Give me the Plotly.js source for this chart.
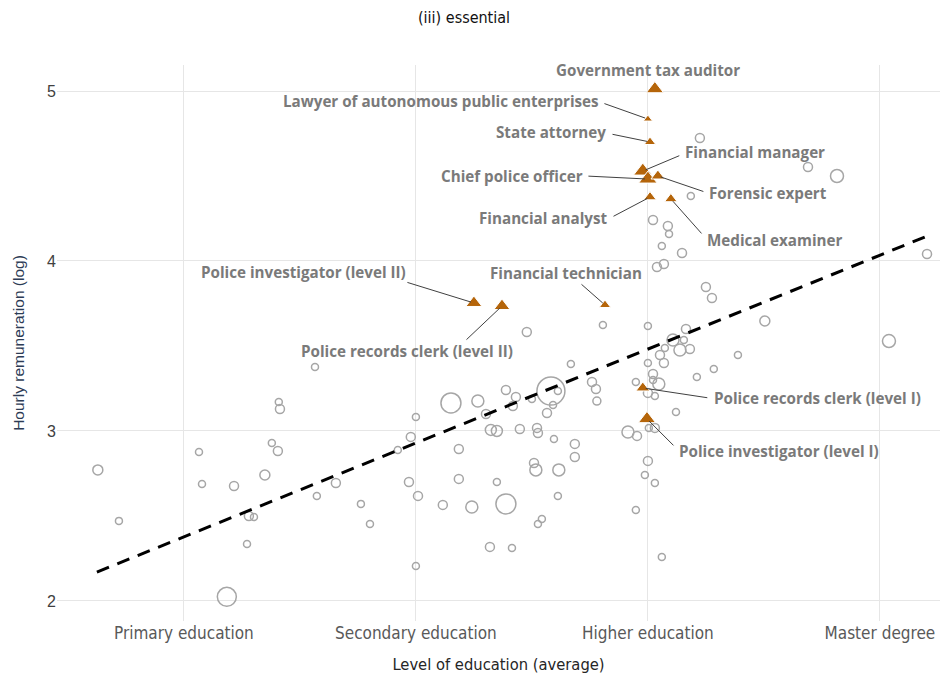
<!DOCTYPE html>
<html>
<head>
<meta charset="utf-8">
<script src="https://cdn.plot.ly/plotly-3.0.1.min.js"></script>
<style>html,body{margin:0;padding:0;background:#fff;}#chart{width:942px;height:682px;}</style>
</head>
<body>
<div id="chart"></div>
<script>
// Level of education (1=Primary, 2=Secondary, 3=Higher, 4=Master)
var educationTicks = [1, 2, 3, 4];
var educationLabels = ["Primary education", "Secondary education", "Higher education", "Master degree"];
var wageTicks = [2, 3, 4, 5];

// Other occupations (grey open circles)
var otherEdu = [0.629,0.720,1.185,1.065,1.078,1.216,1.349,1.379,1.405,1.409,1.414,1.280,1.302,1.272,1.565,1.573,1.655,1.763,1.802,1.922,
  1.978,2.000,1.970,2.009,2.000,2.116,2.151,2.267,2.185,2.185,2.241,2.302,2.323,2.349,2.349,2.388,2.319,2.414,2.388,2.431,
  2.418,2.448,2.478,2.500,2.522,2.526,2.509,2.517,2.543,2.526,2.582,2.612,2.591,2.565,2.595,2.616,2.612,2.668,2.685,2.685,
  2.759,2.776,2.780,2.806,2.914,2.953,2.948,2.948,3.000,3.000,3.022,3.022,3.047,3.000,3.030,3.004,3.030,3.000,2.987,3.030,
  3.060,3.052,3.069,3.073,3.108,3.155,3.138,3.181,3.164,3.121,3.211,3.284,3.388,3.504,3.250,3.276,3.022,3.086,3.091,3.060,
  3.147,3.039,3.069,3.185,3.224,3.690,3.815,4.203,4.039];
var otherWage = [2.771,2.471,2.024,2.876,2.688,2.676,2.741,2.929,2.882,3.171,3.129,2.500,2.494,2.335,3.376,2.618,2.694,2.571,2.453,2.888,
  2.965,3.082,2.700,2.618,2.206,2.565,3.165,3.176,2.894,2.718,2.553,3.100,3.006,3.000,2.700,2.571,2.318,2.312,3.241,3.200,
  3.147,3.012,3.582,3.188,3.018,2.988,2.812,2.771,2.482,2.453,3.235,3.235,3.153,3.106,2.953,2.771,2.618,3.394,2.924,2.847,
  3.288,3.247,3.176,3.624,2.994,2.971,2.535,3.288,3.618,3.400,3.335,3.300,3.276,3.224,3.206,3.018,3.018,2.824,2.741,2.694,
  2.259,3.447,3.400,3.488,3.535,3.535,3.476,3.482,3.600,3.112,3.318,3.365,3.447,3.647,3.847,3.782,4.241,4.206,4.159,4.088,
  4.047,3.965,3.982,4.382,4.724,4.553,4.500,4.041,3.529];
var otherWorkers = [10,7,19,7,7,9,10,7,9,7,9,9,7,7,7,7,9,7,7,7,
  9,7,9,9,7,9,20,12,9,9,12,9,11,11,7,20,9,7,9,9,
  9,9,9,7,9,9,9,12,7,7,28,7,7,9,7,12,7,7,9,9,
  9,9,8,7,12,9,7,7,7,7,9,7,12,9,7,7,9,9,7,7,
  7,9,9,7,12,7,12,9,9,7,7,7,7,10,9,9,9,9,7,7,
  9,9,9,7,9,9,13,9,13];

// Essential occupations (highlighted triangles)
var essentialNames = ["Government tax auditor","Lawyer of autonomous public enterprises","State attorney","Financial manager",
  "Chief police officer","Forensic expert","Financial analyst","Medical examiner","Police investigator (level II)",
  "Police records clerk (level II)","Financial technician","Police records clerk (level I)","Police investigator (level I)"];
var essentialEdu  = [3.030,3.000,3.009,2.978,3.000,3.043,3.009,3.099,2.250,2.371,2.815,2.978,2.996];
var essentialWage = [5.012,4.835,4.700,4.529,4.482,4.500,4.376,4.365,3.753,3.735,3.741,3.253,3.071];
var essentialWorkers = [15,8,10,16,16,12,11,11,14,14,10,12,15];

// Fitted trend line
var trendEdu  = [0.625, 4.194];
var trendWage = [2.170, 4.141];

// Label placement (pixels): label shift from point, anchor, arrow tail offset
var labelShift = [[-7,19],[-47,18],[-42,10],[40,19],[-63,3],[49,-17],[-41,-21],[34,-41],[-66,31],[-95,-45],[-39,32],[69,-10],[30,-32]];
var labelAnchor = ["center","right","right","left","right","left","right","left","right","center","center","left","left"];
var arrowTail = [null,[-45,-16],[-39,-8],[38,-16],[-61,-3],[47,16],[-38,20],[32,36],[-68,-21],[-37,35],[-25,-22],[66,10],[28,28]];

var traces = [
  {x: otherEdu, y: otherWage, type: "scatter", mode: "markers", hoverinfo: "skip",
   marker: {symbol: "circle", size: otherWorkers, opacity: 1, color: "rgba(255,255,255,0)", line: {color: "#a6a6a6", width: 1.5}}},
  {x: trendEdu, y: trendWage, type: "scatter", mode: "lines", hoverinfo: "skip",
   line: {color: "#000000", width: 3, dash: "13px,9px"}},
  {x: essentialEdu, y: essentialWage, type: "scatter", mode: "markers", text: essentialNames,
   marker: {symbol: "triangle-up", size: essentialWorkers, opacity: 1, color: "#b5650a"}}
];

var labelFont = {family: "Open Sans, sans-serif", size: 15.2, color: "#7a7a7a", weight: "bold"};
var annotations = [];
for (var i = 0; i < essentialNames.length; i++) {
  annotations.push({x: essentialEdu[i], y: essentialWage[i], xref: "x", yref: "y",
    text: "<b>" + essentialNames[i] + "</b>", showarrow: false, font: labelFont,
    xanchor: labelAnchor[i], yanchor: "middle", xshift: labelShift[i][0], yshift: labelShift[i][1]});
  if (arrowTail[i]) {
    annotations.push({x: essentialEdu[i], y: essentialWage[i], xref: "x", yref: "y", text: "",
      showarrow: true, arrowhead: 0, arrowwidth: 1, arrowcolor: "#404040", standoff: 3,
      axref: "pixel", ayref: "pixel", ax: arrowTail[i][0], ay: arrowTail[i][1]});
  }
}

var layout = {
  width: 942, height: 682,
  margin: {l: 57, r: 2, t: 65, b: 61},
  paper_bgcolor: "#ffffff", plot_bgcolor: "#ffffff",
  showlegend: false,
  title: {text: "(iii) essential", x: 0.4926, xref: "container", xanchor: "center", y: 0.975, yref: "container", yanchor: "middle",
    font: {family: "Liberation Sans Narrow, DejaVu Sans Condensed, sans-serif", size: 16, color: "#111111"}},
  xaxis: {range: [0.453, 4.259], tickvals: educationTicks, ticktext: educationLabels,
    showgrid: true, gridcolor: "#e6e6e6", gridwidth: 1, zeroline: false, showline: false, ticks: "",
    tickfont: {family: "Liberation Sans Narrow, DejaVu Sans Condensed, sans-serif", size: 17, color: "#595959"},
    title: {text: "Level of education (average)", standoff: 16,
      font: {family: "Liberation Sans Narrow, DejaVu Sans Condensed, sans-serif", size: 16.4, color: "#262626"}}},
  yaxis: {range: [1.882, 5.153], tickvals: wageTicks,
    showgrid: true, gridcolor: "#e6e6e6", gridwidth: 1, zeroline: false, showline: false, ticks: "",
    tickfont: {family: "Liberation Sans, Arial, sans-serif", size: 16, color: "#404040"},
    title: {text: "Hourly remuneration (log)", standoff: 18,
      font: {family: "Liberation Sans, Arial, sans-serif", size: 15.5, color: "#2c3b55"}}},
  annotations: annotations
};

Plotly.newPlot("chart", traces, layout, {displayModeBar: false, responsive: false});
</script>
</body>
</html>
